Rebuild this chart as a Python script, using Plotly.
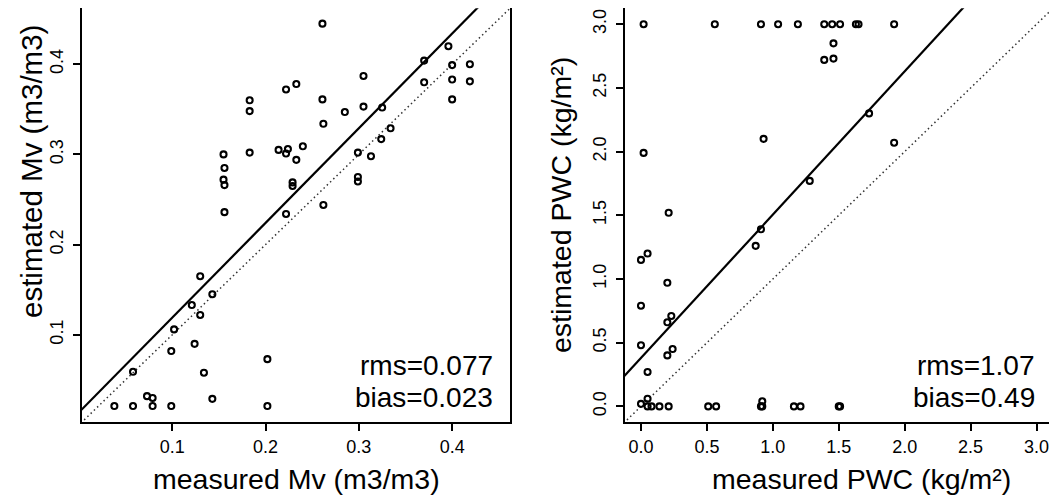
import plotly.graph_objects as go

FONT = "Liberation Sans"

# ---- left panel: soil moisture Mv (m3/m3) ----
mv_measured = [0.261, 0.396, 0.370, 0.400, 0.419, 0.400, 0.370, 0.419, 0.400, 0.305,
               0.233, 0.222, 0.183, 0.183, 0.261, 0.285, 0.305, 0.325, 0.262, 0.334,
               0.324, 0.183, 0.214, 0.224, 0.222, 0.240, 0.233, 0.299, 0.313, 0.155,
               0.156, 0.155, 0.156, 0.229, 0.229, 0.299, 0.299, 0.156, 0.262, 0.222,
               0.130, 0.143, 0.121, 0.130, 0.102, 0.124, 0.099, 0.202, 0.058, 0.134,
               0.073, 0.079, 0.143, 0.038, 0.058, 0.079, 0.099, 0.202]
mv_estimated = [0.445, 0.420, 0.404, 0.399, 0.400, 0.383, 0.380, 0.381, 0.361, 0.387,
                0.378, 0.372, 0.360, 0.348, 0.361, 0.347, 0.353, 0.352, 0.334, 0.329,
                0.317, 0.302, 0.305, 0.306, 0.301, 0.309, 0.294, 0.302, 0.298, 0.300,
                0.285, 0.272, 0.266, 0.269, 0.265, 0.275, 0.270, 0.236, 0.244, 0.234,
                0.165, 0.145, 0.133, 0.122, 0.106, 0.090, 0.082, 0.073, 0.059, 0.058,
                0.032, 0.030, 0.029, 0.021, 0.021, 0.021, 0.021, 0.021]
mv_fit = [0.014, 1.05]          # intercept, slope of solid line
mv_range = [0.003, 0.462]
mv_ticks = [0.1, 0.2, 0.3, 0.4]
mv_stats = ["rms=0.077", "bias=0.023"]
mv_xlabel = "measured Mv (m3/m3)"
mv_ylabel = "estimated Mv (m3/m3)"

# ---- right panel: plant water content PWC (kg/m2) ----
pwc_measured = [0.02, 0.56, 0.91, 1.04, 1.19, 1.39, 1.45, 1.51, 1.63, 1.65, 1.92,
                1.46, 1.39, 1.46, 1.73, 0.93, 0.02, 1.92, 1.28, 0.21, 0.91, 0.87,
                0.00, 0.05, 0.20, 0.00, 0.23, 0.20, 0.00, 0.24, 0.20, 0.05, 0.05, 0.00,
                0.05, 0.08, 0.14, 0.21, 0.51, 0.57, 0.91, 0.92, 0.92, 1.16, 1.21, 1.50, 1.51]
pwc_estimated = [3.0, 3.0, 3.0, 3.0, 3.0, 3.0, 3.0, 3.0, 3.0, 3.0, 3.0,
                 2.85, 2.72, 2.73, 2.30, 2.10, 1.99, 2.07, 1.77, 1.52, 1.39, 1.26,
                 1.15, 1.20, 0.97, 0.79, 0.71, 0.66, 0.48, 0.45, 0.40, 0.27, 0.06, 0.02,
                 0.0, 0.0, 0.0, 0.0, 0.0, 0.0, 0.0, 0.0, 0.04, 0.0, 0.0, 0.0, 0.0]
pwc_fit = [0.38, 1.125]
pwc_range = [-0.125, 3.125]
pwc_ticks = [0.0, 0.5, 1.0, 1.5, 2.0, 2.5, 3.0]
pwc_stats = ["rms=1.07", "bias=0.49"]
pwc_xlabel = "measured PWC (kg/m²)"
pwc_ylabel = "estimated PWC (kg/m²)"

# page body has an 8px margin: the figure starts at (8, 8) in the window
OFF = 8
W, H = 1057 - OFF, 497 - OFF


def px(x):
    return (x - OFF) / W


def py(y):
    return 1 - (y - OFF) / H


fig = go.Figure()

panels = [
    dict(mx=mv_measured, my=mv_estimated, fit=mv_fit, rng=mv_range, xa="x", ya="y"),
    dict(mx=pwc_measured, my=pwc_estimated, fit=pwc_fit, rng=pwc_range, xa="x2", ya="y2"),
]
for p in panels:
    r0, r1 = p["rng"]
    xs = [r0 - 0.1 * (r1 - r0), r1 + 0.1 * (r1 - r0)]
    # 1:1 dotted line
    fig.add_trace(go.Scatter(x=xs, y=xs, mode="lines", xaxis=p["xa"], yaxis=p["ya"],
                             line=dict(color="#333333", width=1.5, dash="1.5px,3px"),
                             hoverinfo="skip"))
    # fitted solid line
    a, b = p["fit"]
    fig.add_trace(go.Scatter(x=xs, y=[a + b * v for v in xs], mode="lines",
                             xaxis=p["xa"], yaxis=p["ya"],
                             line=dict(color="black", width=2.2), hoverinfo="skip"))
    fig.add_trace(go.Scatter(x=p["mx"], y=p["my"], mode="markers",
                             xaxis=p["xa"], yaxis=p["ya"],
                             marker=dict(symbol="circle-open", size=6, color="black",
                                         line=dict(width=2.1, color="black"))))

axis_common = dict(showline=True, linewidth=2, linecolor="black", mirror=True,
                   ticks="outside", ticklen=7, tickwidth=2, tickcolor="black",
                   showgrid=False, zeroline=False, automargin=False,
                   tickfont=dict(family=FONT, size=18, color="black"))

ydom = [py(422.3), py(8.3)]
fig.update_layout(
    width=W, height=H,
    margin=dict(l=0, r=0, t=0, b=0),
    paper_bgcolor="white", plot_bgcolor="white",
    showlegend=False,
    font=dict(family=FONT, color="black"),
    xaxis=dict(domain=[px(81.7), px(510)], range=mv_range, tickvals=mv_ticks,
               ticktext=[f"{v:.1f}" for v in mv_ticks], anchor="y", **axis_common),
    yaxis=dict(domain=ydom, range=mv_range, tickvals=mv_ticks,
               ticktext=[f"{v:.1f}" for v in mv_ticks], tickangle=-90, anchor="x",
               ticklabelstandoff=3, **axis_common),
    xaxis2=dict(domain=[px(624.5), px(1053)], range=pwc_range, tickvals=pwc_ticks,
                ticktext=[f"{v:.1f}" for v in pwc_ticks], anchor="y2", **axis_common),
    yaxis2=dict(domain=ydom, range=pwc_range, tickvals=pwc_ticks,
                ticktext=[f"{v:.1f}" for v in pwc_ticks], tickangle=-90, anchor="x2",
                ticklabelstandoff=2, **axis_common),
)

annots = [
    dict(text=mv_xlabel, x=px(296), y=py(479), textangle=0, size=28.5),
    dict(text=pwc_xlabel, x=px(861), y=py(479), textangle=0, size=28.5),
    dict(text=mv_ylabel, x=px(31), y=py(172), textangle=-90, size=29.5),
    dict(text=pwc_ylabel, x=px(561), y=py(205), textangle=-90, size=28.5),
]
for a in annots:
    size = a.pop("size")
    fig.add_annotation(xref="paper", yref="paper", showarrow=False,
                       xanchor="center", yanchor="middle",
                       font=dict(family=FONT, size=size, color="black"), **a)

stat_font = dict(family=FONT, size=28, color="black")
for stats, xr in [(mv_stats, 495), (pwc_stats, 1037)]:
    for txt, yc in zip(stats, [365.5, 397.5]):
        fig.add_annotation(text=txt, xref="paper", yref="paper", x=px(xr), y=py(yc),
                           xanchor="right", yanchor="middle", showarrow=False,
                           font=stat_font)

fig.write_html("out.html")
